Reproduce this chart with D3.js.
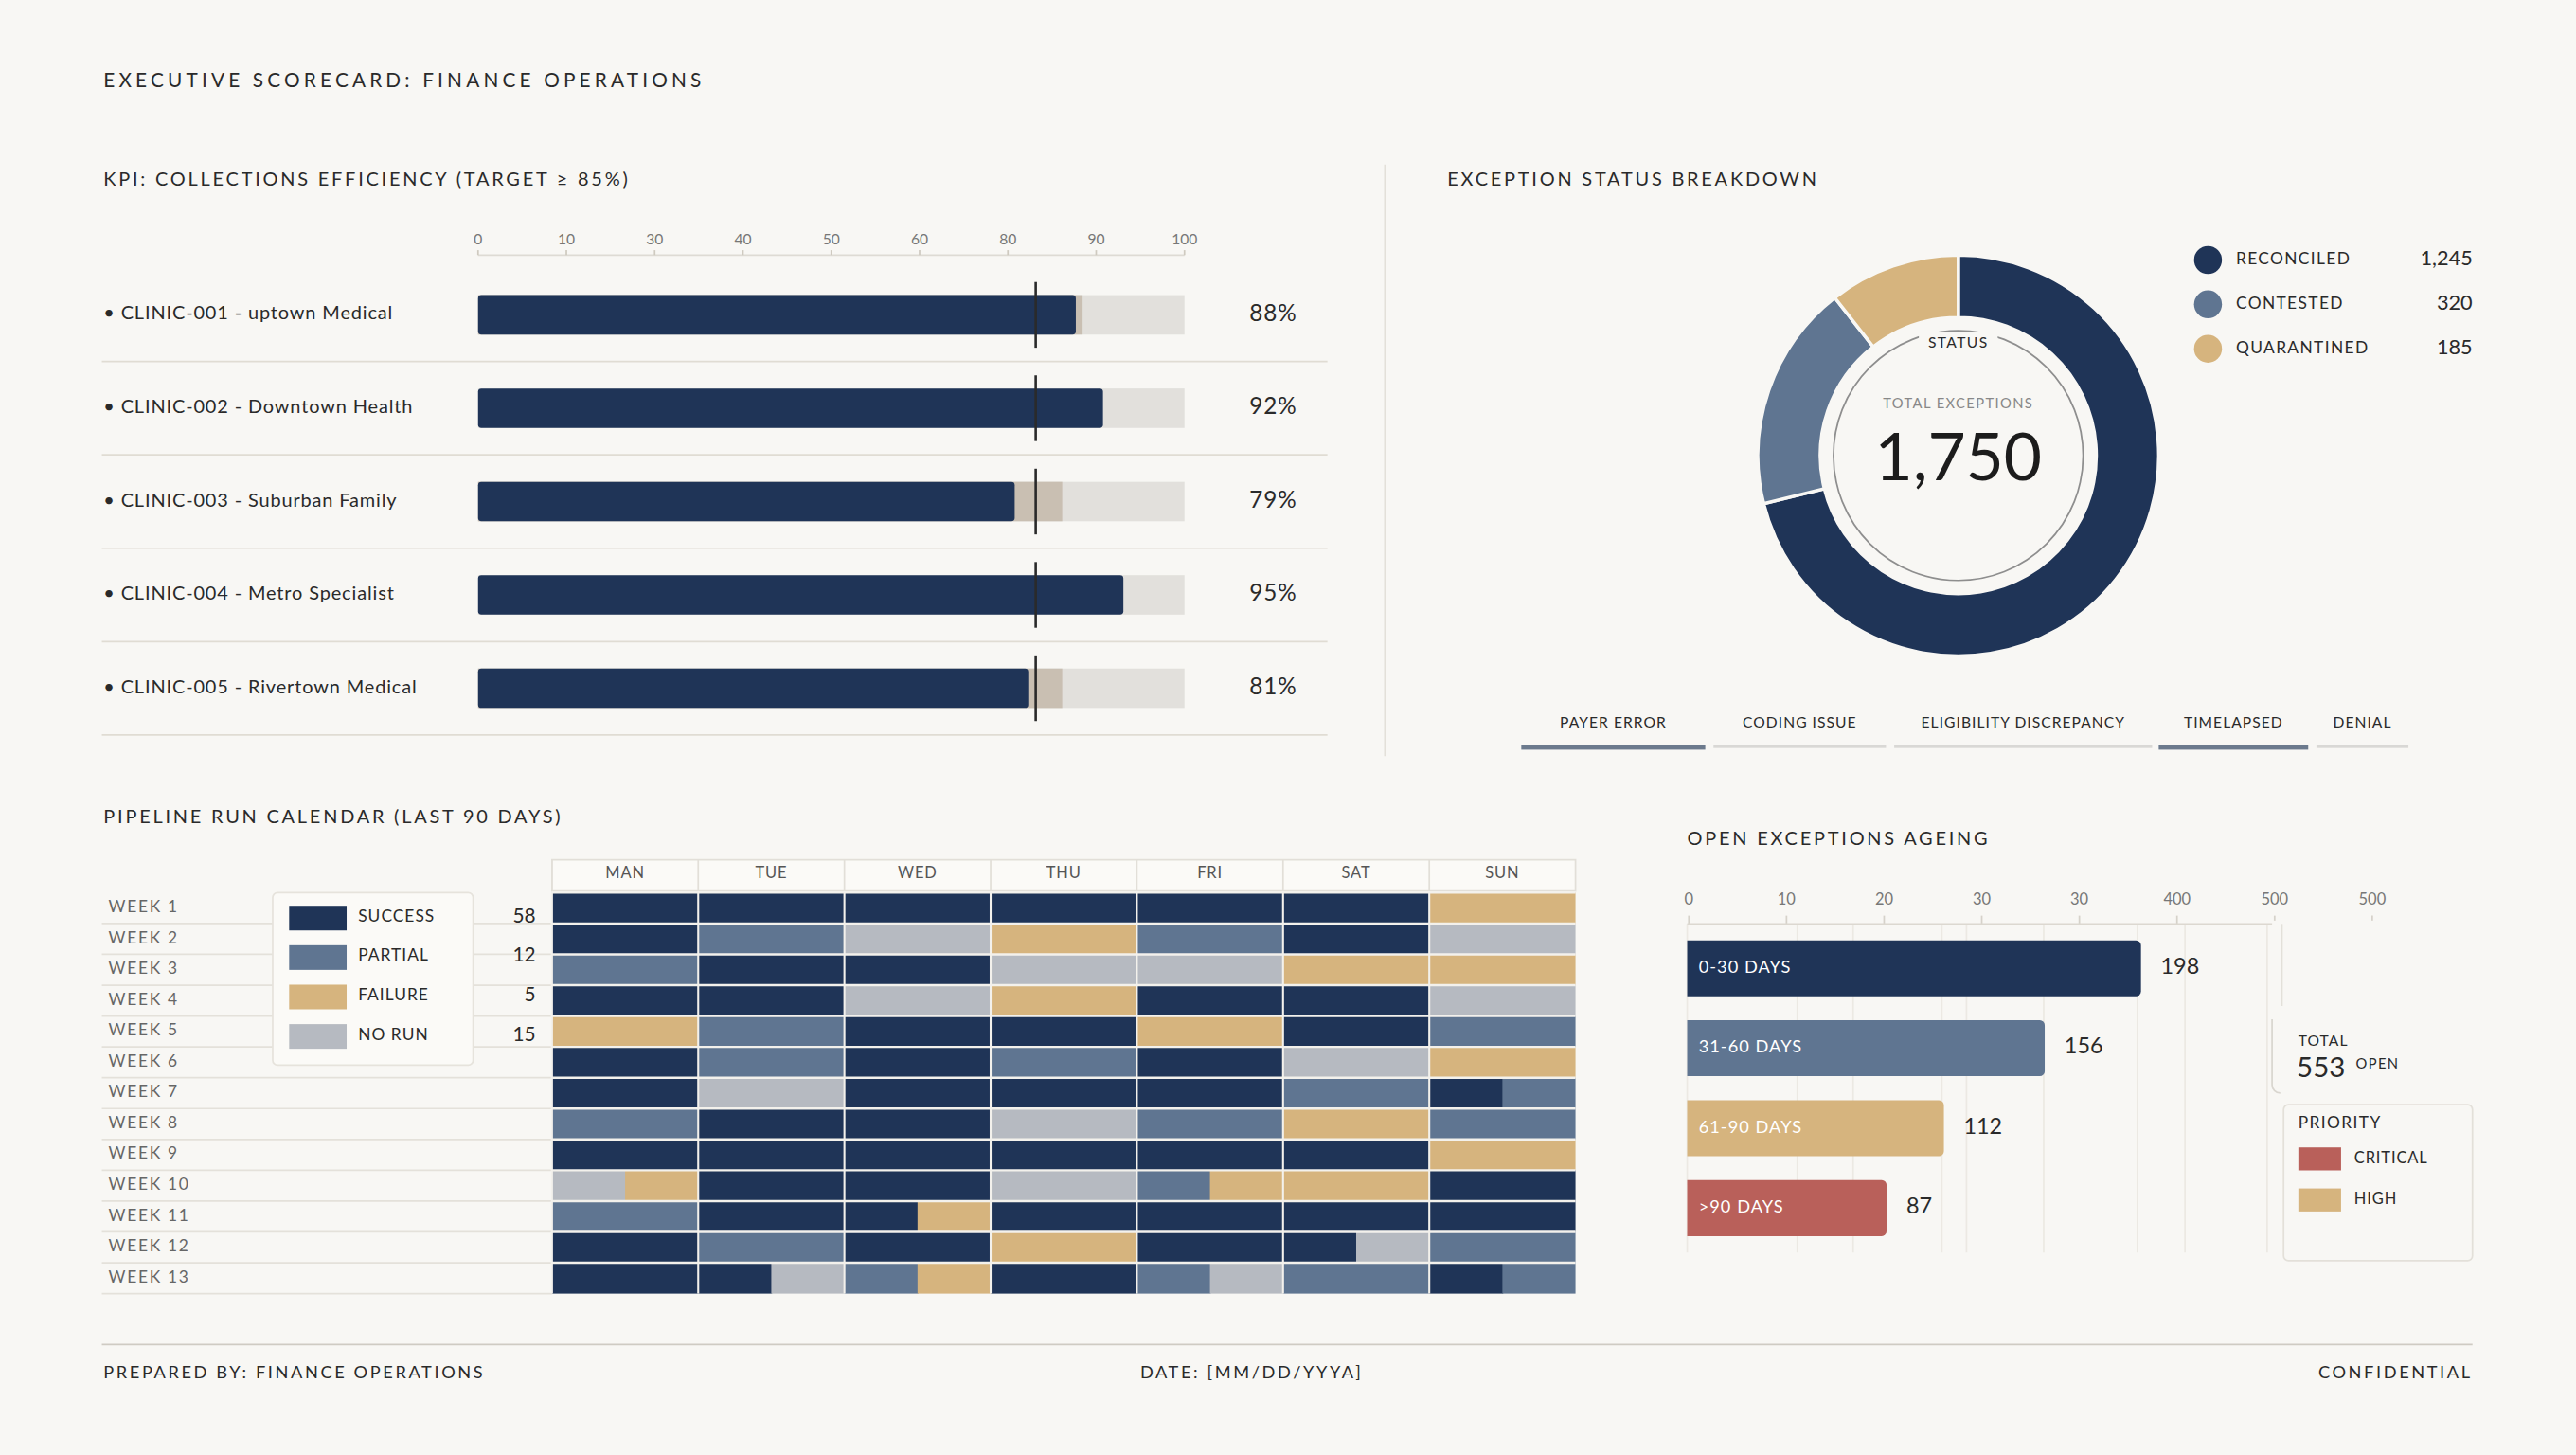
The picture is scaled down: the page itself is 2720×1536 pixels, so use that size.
<!DOCTYPE html>
<html><head><meta charset="utf-8">
<script src="https://cdn.jsdelivr.net/npm/d3@7"></script>
<style>body{margin:0;background:#f8f7f4}svg{display:block;font-family:Lato,"Open Sans",sans-serif}</style>
</head><body><svg id="c" width="2720" height="1536" viewBox="0 0 1568 885"></svg>
<script>
const clinics=["CLINIC-001 - uptown Medical","CLINIC-002 - Downtown Health","CLINIC-003 - Suburban Family","CLINIC-004 - Metro Specialist","CLINIC-005 - Rivertown Medical"];
const kpiValues=[88,92,79,95,81];
const kpiBand=[89,0,86,0,86];
const kpiTarget=85;
const kpiTickLabels=["0","10","30","40","50","60","80","90","100"];
const statusCats=["RECONCILED","CONTESTED","QUARANTINED"];
const statusValues=[1245,320,185];
const tabs=["PAYER ERROR","CODING ISSUE","ELIGIBILITY DISCREPANCY","TIMELAPSED","DENIAL"];
const days=["MAN","TUE","WED","THU","FRI","SAT","SUN"];
const weeks=["WEEK 1","WEEK 2","WEEK 3","WEEK 4","WEEK 5","WEEK 6","WEEK 7","WEEK 8","WEEK 9","WEEK 10","WEEK 11","WEEK 12","WEEK 13"];
const runCodes=[
"S S S S S S F","S P N F P S N","P S S N N F F","S S N F S S N","F P S S F S P",
"S P S P S N F","S N S S S P SP","P S S N P F P","S S S S S S F","NF S S N PF F S",
"P S SF S S S S","S P S F S SN P","S SN PF S PN P SP"];
const runLegend=["SUCCESS","PARTIAL","FAILURE","NO RUN"];
const runCounts=[58,12,5,15];
const ageCats=["0-30 DAYS","31-60 DAYS","61-90 DAYS",">90 DAYS"];
const ageValues=[198,156,112,87];
const ageTickLabels=["0","10","20","30","30","400","500","500"];
const ageTotal=553;
const priorities=["CRITICAL","HIGH"];

const NAVY="#1f3457",SLATE="#5f7591",TAN="#d6b47e",GRAY="#b6bac1",RED="#b9605a",INK="#2a2a2a";
const runColor={S:NAVY,P:SLATE,F:TAN,N:GRAY};
const svg=d3.select("#c");
svg.append("rect").attr("width",1568).attr("height",885).attr("fill","#f8f7f4");
function txt(x,y,t,o={}){return svg.append("text").attr("x",x).attr("y",y).text(t)
 .attr("font-size",o.size||11).attr("fill",o.fill||INK).attr("letter-spacing",o.ls||0)
 .attr("text-anchor",o.anchor||"start").attr("dominant-baseline","middle").attr("font-weight",o.w||400);}
const line=(x1,y1,x2,y2,c="#dedbd4",w=1)=>svg.append("line").attr("x1",x1).attr("y1",y1).attr("x2",x2).attr("y2",y2).attr("stroke",c).attr("stroke-width",w);

txt(63,50,"EXECUTIVE SCORECARD: FINANCE OPERATIONS",{size:12,ls:2.4});
// KPI
txt(63,110,"KPI: COLLECTIONS EFFICIENCY (TARGET ≥ 85%)",{size:11.5,ls:1.6});
const kx=d3.scaleLinear().domain([0,104]).range([291,721]);
const kt=d3.scalePoint().domain(kpiTickLabels).range([291,721]);
kpiTickLabels.forEach(l=>txt(kt(l),146,l,{size:9,fill:"#777",anchor:"middle"}));
line(291,155,721,155,"#dedbd4");
kpiTickLabels.forEach(l=>line(kt(l),152,kt(l),155,"#cfcac0"));
const ky=d3.scaleBand().domain(clinics).range([163,447]);
clinics.forEach((c,i)=>{
 const yc=ky(c)+ky.bandwidth()/2;
 txt(63,yc,"• "+c,{size:11.5,ls:0.5});
 svg.append("rect").attr("x",291).attr("y",yc-12).attr("width",430).attr("height",24).attr("fill","#e2e0dc");
 if(kpiBand[i]) svg.append("rect").attr("x",291).attr("y",yc-12).attr("width",kx(kpiBand[i])-291).attr("height",24).attr("fill","#c9bfb2");
 svg.append("rect").attr("x",291).attr("y",yc-12).attr("width",kx(kpiValues[i])-291).attr("height",24).attr("rx",2).attr("fill",NAVY);
 line(kx(kpiTarget)-12,yc-20,kx(kpiTarget)-12,yc+20,"#2a2a2a",1.5);
 txt(775,yc,kpiValues[i]+"%",{size:14,anchor:"middle",ls:0.5});
 line(62,ky(c)+ky.bandwidth(),808,ky(c)+ky.bandwidth(),"#e0dcd3");
});
line(843,100,843,460,"#e3e0d9");
// Donut
txt(881,110,"EXCEPTION STATUS BREAKDOWN",{size:11.5,ls:1.6});
const cx=1192,cy=277;
const pie=d3.pie().sort(null)(statusValues);
const arc=d3.arc().innerRadius(84).outerRadius(122);
const dcol=[NAVY,SLATE,TAN];
svg.append("g").attr("transform",`translate(${cx},${cy})`).selectAll("path").data(pie).join("path")
 .attr("d",arc).attr("fill",(d,i)=>dcol[i]).attr("stroke","#f8f7f4").attr("stroke-width",2);
svg.append("circle").attr("cx",cx).attr("cy",cy).attr("r",84).attr("fill","#f8f7f4");
svg.append("circle").attr("cx",cx).attr("cy",cy).attr("r",76).attr("fill","none").attr("stroke","#8e8e8e").attr("stroke-width",1);
svg.append("rect").attr("x",cx-24).attr("y",202).attr("width",48).attr("height",14).attr("fill","#f8f7f4");
txt(cx,209,"STATUS",{size:9,anchor:"middle",ls:0.8});
txt(cx,246,"TOTAL EXCEPTIONS",{size:8.5,anchor:"middle",fill:"#888",ls:0.8});
txt(cx,282,d3.format(",")(d3.sum(statusValues)),{size:40,anchor:"middle",fill:"#1c1c1c"});
statusCats.forEach((c,i)=>{const y=158+27*i;
 svg.append("circle").attr("cx",1344).attr("cy",y).attr("r",8.5).attr("fill",dcol[i]);
 txt(1361,y,c,{size:10,ls:0.8});
 txt(1505,y,d3.format(",")(statusValues[i]),{size:12.5,anchor:"end"});
});
const tabX=[[926,1038],[1043,1148],[1153,1310],[1314,1405],[1410,1466]];
const tabActive=[1,0,0,1,0];
tabs.forEach((t,i)=>{const [a,b]=tabX[i];
 txt((a+b)/2,440,t,{size:9,anchor:"middle",ls:0.6});
 svg.append("rect").attr("x",a).attr("y",453).attr("width",b-a).attr("height",tabActive[i]?3:2).attr("fill",tabActive[i]?"#6c7a8d":"#d9d8d5");
});
// Calendar
txt(63,498,"PIPELINE RUN CALENDAR (LAST 90 DAYS)",{size:11.5,ls:1.6});
const cxs=d3.scaleBand().domain(days).range([336,959]);
const cys=d3.scaleBand().domain(weeks).range([543,787]);
svg.append("rect").attr("x",336).attr("y",523).attr("width",623).attr("height",19).attr("fill","#fbfaf7").attr("stroke","#e2dfd8");
days.forEach(d=>{txt(cxs(d)+cxs.bandwidth()/2,532,d,{size:9.5,anchor:"middle",fill:"#555",ls:0.5});
 line(cxs(d),523,cxs(d),542,"#e2dfd8");});
weeks.forEach((w,r)=>{
 txt(66,cys(w)+cys.bandwidth()/2,w,{size:10,fill:"#666",ls:1});
 line(62,cys(w)+cys.bandwidth(),336,cys(w)+cys.bandwidth(),"#e4e1da");
 runCodes[r].split(" ").forEach((code,c)=>{
  const d=days[c],bw=cxs.bandwidth(),parts=code.split("");
  parts.forEach((p,k)=>svg.append("rect").attr("x",cxs(d)+k*bw/parts.length).attr("y",cys(w))
   .attr("width",bw/parts.length+(k<parts.length-1?0.5:0)).attr("height",cys.bandwidth()).attr("fill",runColor[p]));
 });
});
const cg=svg.append("g");
days.forEach(d=>cg.append("line").attr("x1",cxs(d)).attr("x2",cxs(d)).attr("y1",543).attr("y2",787).attr("stroke","#f3f1ec").attr("stroke-width",1.2));
weeks.forEach(w=>cg.append("line").attr("x1",336).attr("x2",959).attr("y1",cys(w)).attr("y2",cys(w)).attr("stroke","#f3f1ec").attr("stroke-width",1.4));
svg.append("rect").attr("x",166).attr("y",543).attr("width",122).attr("height",105).attr("fill","#fbfaf7").attr("stroke","#e6e3dc").attr("rx",3);
runLegend.forEach((l,i)=>{const y=558+24*i;
 svg.append("rect").attr("x",176).attr("y",y-7).attr("width",35).attr("height",15).attr("fill",runColor["SPFN"[i]]);
 txt(218,y,l,{size:10,ls:0.6});
 txt(326,y,runCounts[i],{size:12,anchor:"end"});
});
// Ageing
txt(1027,511,"OPEN EXCEPTIONS AGEING",{size:11.5,ls:1.6});
const ax=d3.scaleLinear().domain([0,200]).range([1027,1306]);
const at=d3.scalePoint().domain(d3.range(ageTickLabels.length)).range([1028,1444]);
ageTickLabels.forEach((l,i)=>{txt(at(i),548,l,{size:9.5,fill:"#777",anchor:"middle"});line(at(i),557,at(i),562,"#d6d2ca");});
[1027,1094,1128,1182,1197,1244,1301,1330,1380].forEach(x=>line(x,562,x,762,"#ece9e3"));
line(1027,562,1505,562,"#dcd8d0");
const ay=d3.scaleBand().domain(ageCats).range([572,752]).paddingInner(0.3);
const acol=[NAVY,SLATE,TAN,RED];
ageCats.forEach((c,i)=>{const y=ay(c),h=ay.bandwidth();
 svg.append("path").attr("d",`M1027,${y}H${ax(ageValues[i])-3}a3,3 0 0 1 3,3V${y+h-3}a3,3 0 0 1 -3,3H1027Z`).attr("fill",acol[i]);
 txt(1034,y+h/2,c,{size:10.5,fill:"#fff",ls:0.6});
 txt(ax(ageValues[i])+12,y+h/2,ageValues[i],{size:13.5});
});
svg.append("rect").attr("x",1383).attr("y",560).attr("width",130).attr("height",105).attr("fill","#f8f7f4");
svg.append("path").attr("d","M1389,562V612").attr("stroke","#e3e0d9").attr("fill","none");
svg.append("path").attr("d","M1383,620V660a5,5 0 0 0 5,5").attr("stroke","#d9d6cf").attr("fill","none");
txt(1399,634,"TOTAL",{size:9,ls:0.6});
txt(1398,651,ageTotal,{size:17});
txt(1434,648,"OPEN",{size:8.5,ls:0.8});
svg.append("rect").attr("x",1390).attr("y",672).attr("width",115).attr("height",95).attr("fill","#f8f7f4").attr("stroke","#e3e0d9").attr("rx",3);
txt(1399,684,"PRIORITY",{size:10,ls:0.8});
priorities.forEach((p,i)=>{const y=705+25*i;
 svg.append("rect").attr("x",1399).attr("y",y-7).attr("width",26).attr("height",14).attr("fill",[RED,TAN][i]);
 txt(1433,y,p,{size:9.5,ls:0.5});
});
// Footer
line(62,818,1505,818,"#cfcbc3");
txt(63,836,"PREPARED BY:  FINANCE OPERATIONS",{size:10.5,ls:1.5});
txt(694,836,"DATE:  [MM/DD/YYYA]",{size:10.5,ls:1.5});
txt(1505,836,"CONFIDENTIAL",{size:10.5,ls:1.5,anchor:"end"});
</script></body></html>
